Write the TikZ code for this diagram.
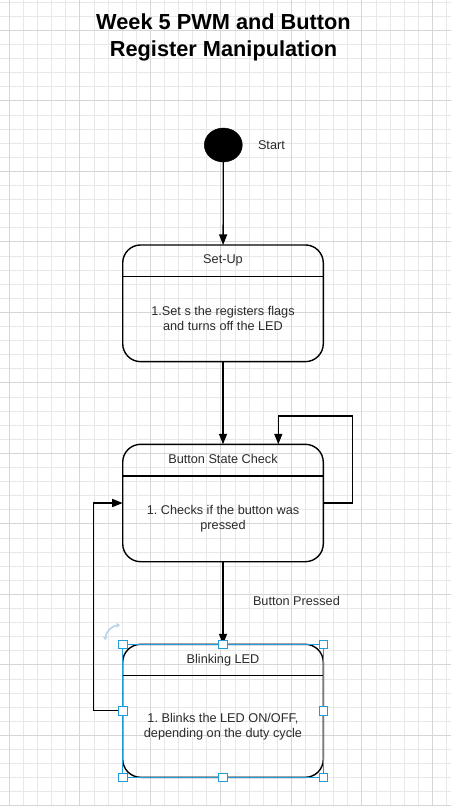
\documentclass[tikz,border=0pt]{standalone}
\usepackage{fontspec}
\setmainfont{Liberation Sans}
\usetikzlibrary{arrows.meta,shapes.geometric}
\definecolor{gridminor}{HTML}{E8E8E8}
\definecolor{gridmajor}{HTML}{D6D6D6}
\definecolor{selblue}{HTML}{1F9BD8}
\definecolor{rotblue}{HTML}{B8D2EC}
\definecolor{txt}{HTML}{2B2B2B}
\frenchspacing

\begin{document}
\begin{tikzpicture}[x=1pt,y=-1pt,
  every node/.style={font=\fontsize{12.7}{14.8}\selectfont,text=txt,inner sep=0pt,outer sep=0pt},
  state/.style={draw,line width=1.4pt,rounded corners=18pt,minimum width=200.6pt,inner sep=0pt},
  lbl/.style={anchor=base,align=center},
  flow/.style={line width=1.3pt,-{Triangle[length=10.5pt,width=8pt]}},
  handle/.style={draw=selblue,fill=white,line width=0.9pt,minimum size=8.5pt}]
\useasboundingbox (0,0) rectangle (451,806);
\fill[white] (0,0) rectangle (451,806);
% grid
\foreach \k in {-1,...,31} \draw[gridminor,line width=0.8pt] ({9.3+14.1*\k},0) -- ({9.3+14.1*\k},806);
\foreach \k in {0,...,57} \draw[gridminor,line width=0.8pt] (0,{2.1+14.1*\k}) -- (451,{2.1+14.1*\k});
\foreach \k in {0,...,6} \draw[gridmajor,line width=0.9pt] ({9.3+70.5*\k},0) -- ({9.3+70.5*\k},806);
\foreach \k in {0,...,11} \draw[gridmajor,line width=0.9pt] (0,{30.3+70.5*\k}) -- (451,{30.3+70.5*\k});

% base anchor = baseline of the last line
\node[lbl,text=black,font=\fontsize{21.75}{27.4}\bfseries\selectfont] (title) at (223.5,56.7) {Week 5 PWM and Button\\Register Manipulation};

\node[draw,fill=black,ellipse,minimum width=38pt,minimum height=34pt] (start) at (223.3,145) {};
\node[anchor=base west] (startlbl) at (258,149.5) {Start};

\node[state,minimum height=116.7pt] (setup) at (223,303.3) {};
\node[state,minimum height=117.4pt] (check) at (223,503) {};
\node[state,minimum height=133pt] (blink) at (223,710.8) {};
\draw[line width=1.2pt] ([yshift=-31.2pt]setup.north west) -- ([yshift=-31.2pt]setup.north east);
\draw[line width=1.2pt] ([yshift=-31.7pt]check.north west) -- ([yshift=-31.7pt]check.north east);
\draw[line width=1.2pt] ([yshift=-31.4pt]blink.north west) -- ([yshift=-31.4pt]blink.north east);

\node[lbl] (setuptitle) at (223,263.5) {Set-Up};
\node[lbl] (setupbody) at (223,330.5) {1.Set s the registers flags\\and turns off the LED};
\node[lbl] (checktitle) at (223,463.5) {Button State Check};
\node[lbl] (checkbody) at (223,529.5) {1. Checks if the button was\\pressed};
\node[lbl] (blinktitle) at (223,663.5) {Blinking LED};
\node[lbl] (blinkbody) at (223,737.4) {1. Blinks the LED ON/OFF,\\depending on the duty cycle};

\draw[flow] (start) -- (setup);
\draw[flow] (setup) -- (check);
\draw[flow] (check) -- node[pos=0.5,anchor=base west,xshift=30pt,yshift=-2pt] (pressedlbl) {Button Pressed} (blink);
\draw[flow] (check.east) -| (352.7,416) -| (check.north -| 278.3,0);
\draw[flow] (blink.west) -| (93.3,503) -- (check.west);

% selection
\draw[selblue,line width=0.9pt] (blink.north west) rectangle (blink.south east);
\foreach \a/\n in {north west/nw,north/n,north east/ne,west/w,east/e,south west/sw,south/s,south east/se}
  \node[handle] (hd\n) at (blink.\a) {};
\draw[rotblue,line width=1.6pt,{Stealth[length=3.5pt,width=5pt]}-{Stealth[length=3.5pt,width=5pt]}] (105,640) to[bend left=40] (120,625);
\end{tikzpicture}
\end{document}
